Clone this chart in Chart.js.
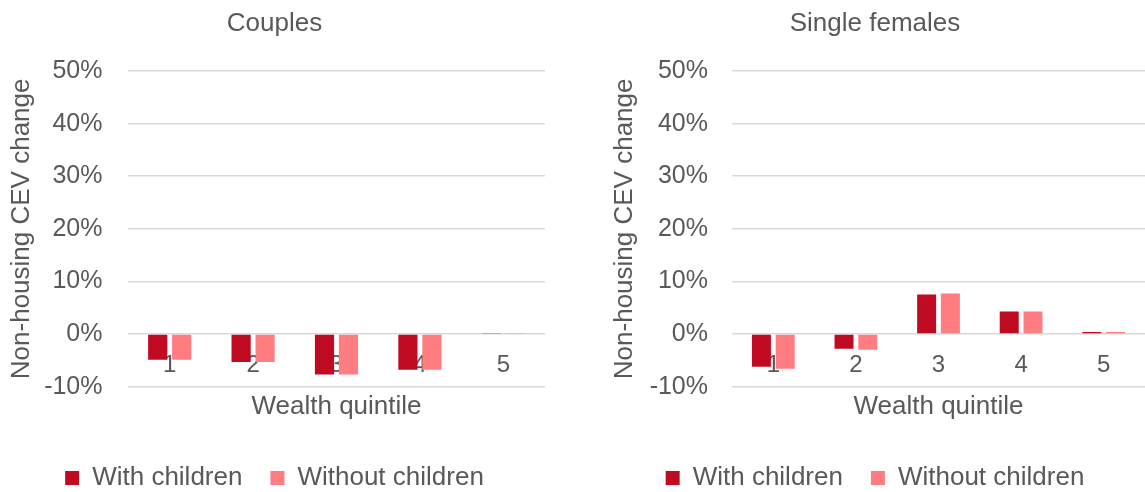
<!DOCTYPE html>
<html>
<head>
<meta charset="utf-8">
<script src="https://cdn.jsdelivr.net/npm/chart.js@4.4.1/dist/chart.umd.min.js"></script>
<style>
  html, body { margin: 0; padding: 0; background: #ffffff; width: 1145px; height: 492px; overflow: hidden; }
  canvas { position: absolute; top: 0; }
</style>
</head>
<body>
<canvas id="couples" width="554" height="492" style="left:4px"></canvas>
<canvas id="singles" width="540" height="492" style="left:605px"></canvas>
<script>
// Wealth quintiles on the x axis
const quintiles = ['1', '2', '3', '4', '5'];

// Non-housing CEV change (%), couples
const couplesWithChildren = [-4.9, -5.3, -7.7, -6.8, 0.2];
const couplesWithoutChildren = [-4.9, -5.3, -7.7, -6.8, 0.2];

// Non-housing CEV change (%), single females
const singleWithChildren = [-6.2, -2.8, 7.5, 4.3, 0.4];
const singleWithoutChildren = [-6.6, -3.0, 7.7, 4.3, 0.4];

const seriesNames = ['With children', 'Without children'];
const seriesColors = ['#C00A22', '#FF7C80'];

// Value axis range and step (%)
const yMin = -10;
const yMax = 50;
const yStep = 10;

const TEXT = '#595959';
const GRID = '#d9d9d9';
Chart.defaults.font.family = "'Liberation Sans', Arial, sans-serif";
Chart.defaults.color = TEXT;

function buildChart(canvasId, title, withKids, withoutKids, g) {
  return new Chart(document.getElementById(canvasId), {
    type: 'bar',
    data: {
      labels: quintiles,
      datasets: [
        { label: seriesNames[0], data: withKids, backgroundColor: seriesColors[0],
          categoryPercentage: 0.575, barPercentage: 0.8 },
        { label: seriesNames[1], data: withoutKids, backgroundColor: seriesColors[1],
          categoryPercentage: 0.575, barPercentage: 0.8 }
      ]
    },
    options: {
      responsive: false,
      animation: false,
      devicePixelRatio: 1,
      layout: { padding: { top: 0, left: 0, right: g.padRight, bottom: -9 } },
      plugins: {
        title: {
          display: true, text: title, color: TEXT,
          font: { size: 26, weight: 'normal' },
          padding: { top: 8.4, bottom: 31.4 }
        },
        legend: {
          position: 'bottom',
          labels: {
            color: TEXT, font: { size: 26 },
            boxWidth: 14, boxHeight: 14, padding: 28
          }
        },
        tooltip: { enabled: false }
      },
      scales: {
        x: {
          type: 'category',
          grid: { display: false, drawTicks: false },
          border: { display: false },
          ticks: { display: false },
          title: {
            display: true, text: 'Wealth quintile', color: TEXT,
            font: { size: 26 }, padding: { top: 0, bottom: 14.4 }
          },
          afterFit: (s) => { s.height = 50.3; }
        },
        // category labels sit just under the zero line
        xq: {
          type: 'category',
          position: { y: 0 },
          offset: true,
          z: 1,
          grid: { display: false, drawTicks: false },
          border: { display: false },
          ticks: { color: TEXT, font: { size: 24 }, padding: 17, maxRotation: 0 }
        },
        y: {
          min: yMin, max: yMax,
          grid: { color: GRID, lineWidth: 1.5, drawTicks: false },
          border: { display: false },
          ticks: {
            stepSize: yStep, color: TEXT, font: { size: 25 }, padding: g.tickPad,
            callback: (v) => v + '%'
          },
          title: {
            display: true, text: 'Non-housing CEV change', color: TEXT,
            font: { size: 26 }, padding: { top: g.titlePad, bottom: 0 }
          },
          afterFit: (s) => { s.width = g.axisWidth; }
        }
      }
    }
  });
}

buildChart('couples', 'Couples', couplesWithChildren, couplesWithoutChildren,
  { padRight: 13, axisWidth: 124, tickPad: 25.5, titlePad: 2.4 });
buildChart('singles', 'Single females', singleWithChildren, singleWithoutChildren,
  { padRight: 0, axisWidth: 127, tickPad: 24, titlePad: 4.4 });
</script>
</body>
</html>
